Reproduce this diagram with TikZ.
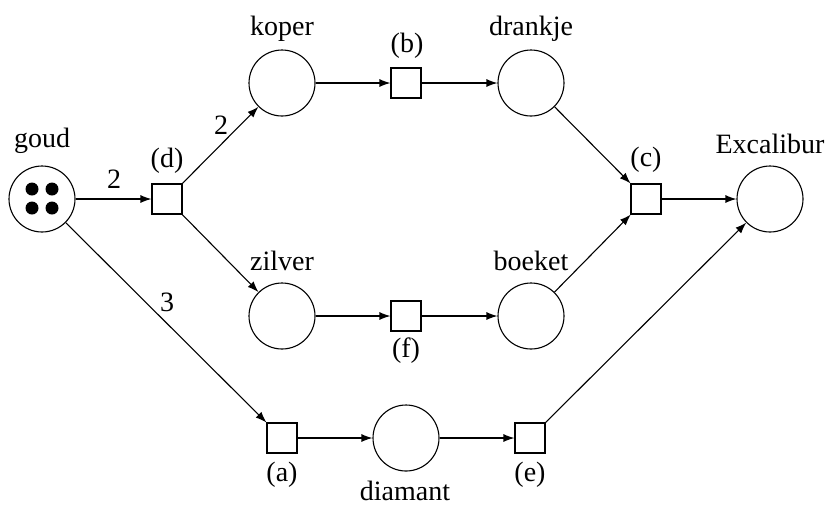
\documentclass[tikz,border=0pt]{standalone}
\usepackage{fontspec}
\setmainfont{Liberation Serif}
\usetikzlibrary{arrows.meta}
\begin{document}
\begin{tikzpicture}[x=0.5pt,y=-0.5pt,
  place/.style={draw,circle,line width=0.55pt,minimum size=33pt,inner sep=0pt},
  trans/.style={draw,rectangle,line width=0.55pt,minimum size=15pt,inner sep=0pt},
  lbl/.style={font=\fontsize{14pt}{16pt}\selectfont,anchor=base,inner sep=0pt},
  arc/.style={line width=0.55pt,-{Latex[length=5.5pt,width=4pt]}},
  token/.style={fill=black,circle,minimum size=6.5pt,inner sep=0pt}]
\useasboundingbox (0,0) rectangle (829,505);
% places
\node[place] (goud) at (42,199) {};
\node[place] (koper) at (282,83) {};
\node[place] (drankje) at (531,83) {};
\node[place] (zilver) at (282,316) {};
\node[place] (boeket) at (531,316) {};
\node[place] (diamant) at (406,438) {};
\node[place] (excal) at (770,199) {};
% tokens
\node[token] (t1) at (32,189) {};
\node[token] (t2) at (52,189) {};
\node[token] (t3) at (32,208) {};
\node[token] (t4) at (52,208) {};
% transitions
\node[trans] (d) at (167,199) {};
\node[trans] (b) at (406,83) {};
\node[trans] (c) at (646,199) {};
\node[trans] (f) at (406,316) {};
\node[trans] (a) at (282,438) {};
\node[trans] (e) at (530,438) {};
% labels
\node[lbl] (lgoud) at (42,147) {goud};
\node[lbl] (lkoper) at (282,35) {koper};
\node[lbl] (ldrankje) at (531,35) {drankje};
\node[lbl] (lzilver) at (282,270) {zilver};
\node[lbl] (lboeket) at (531,270) {boeket};
\node[lbl] (ldiamant) at (405,500) {diamant};
\node[lbl] (lexcal) at (770,153) {Excalibur};
\node[lbl] (ld) at (167,167) {(d)};
\node[lbl] (lb) at (407,52) {(b)};
\node[lbl] (lc) at (646,166) {(c)};
\node[lbl] (lf) at (406,357) {(f)};
\node[lbl] (la) at (282,481) {(a)};
\node[lbl] (le) at (530,481) {(e)};
\node[lbl] (w1) at (114,188) {2};
\node[lbl] (w2) at (221,134) {2};
\node[lbl] (w3) at (167,311) {3};
% arcs
\draw[arc] (goud) -- (d);
\draw[arc] (d) -- (koper);
\draw[arc] (d) -- (zilver);
\draw[arc] (goud) -- (a);
\draw[arc] (koper) -- (b);
\draw[arc] (b) -- (drankje);
\draw[arc] (zilver) -- (f);
\draw[arc] (f) -- (boeket);
\draw[arc] (drankje) -- (c);
\draw[arc] (boeket) -- (c);
\draw[arc] (c) -- (excal);
\draw[arc] (a) -- (diamant);
\draw[arc] (diamant) -- (e);
\draw[arc] (e) -- (excal);
\end{tikzpicture}
\end{document}
